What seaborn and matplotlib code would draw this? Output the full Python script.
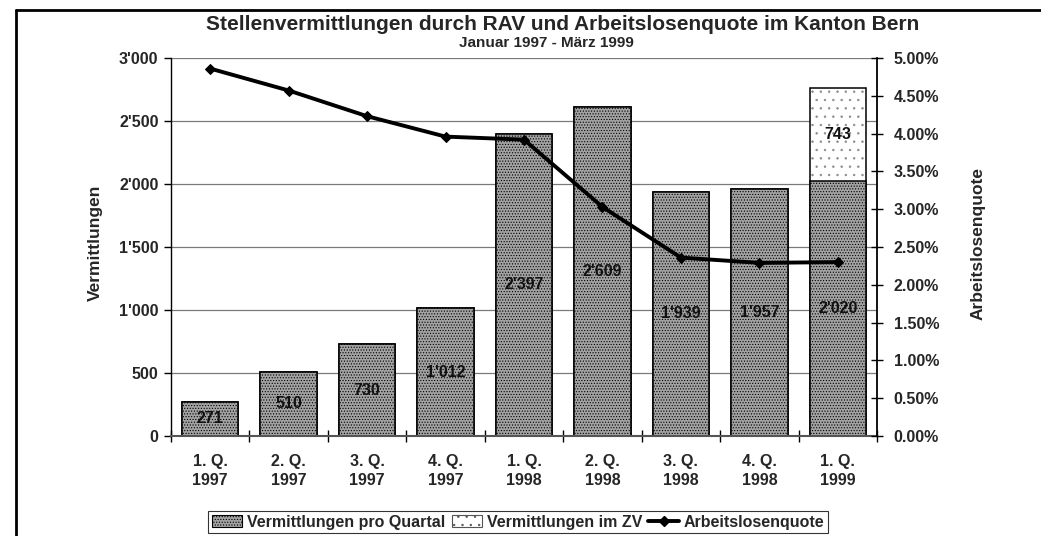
import matplotlib
matplotlib.use("Agg")
import matplotlib.pyplot as plt
import seaborn as sns
import pandas as pd
import numpy as np
from matplotlib.lines import Line2D
from matplotlib.patches import Patch
from matplotlib.ticker import FuncFormatter, FixedLocator

# ---- data ----
quarters = ["1. Q.\n1997", "2. Q.\n1997", "3. Q.\n1997", "4. Q.\n1997",
            "1. Q.\n1998", "2. Q.\n1998", "3. Q.\n1998", "4. Q.\n1998", "1. Q.\n1999"]
vermittlungen = [271, 510, 730, 1012, 2397, 2609, 1939, 1957, 2020]
vermittlungen_zv = [0, 0, 0, 0, 0, 0, 0, 0, 743]
arbeitslosenquote = [4.86, 4.57, 4.23, 3.96, 3.92, 3.03, 2.36, 2.29, 2.30]

title = "Stellenvermittlungen durch RAV und Arbeitslosenquote im Kanton Bern"
subtitle = "Januar 1997 - März 1999"
legend_labels = ["Vermittlungen pro Quartal", "Vermittlungen im ZV", "Arbeitslosenquote"]

def apos(v):
    return f"{int(round(v)):,}".replace(",", "'")

# ---- style ----
sns.set_theme(style="white")
plt.rcParams["font.family"] = ["Liberation Sans", "DejaVu Sans"]
plt.rcParams["font.weight"] = "bold"
plt.rcParams["axes.labelweight"] = "bold"
plt.rcParams["hatch.linewidth"] = 0.5

FS = 11.5
BAR_GRAY = "#a2a2a2"

W, H = 1041, 536
fig = plt.figure(figsize=(W / 100, H / 100), dpi=100)
fig.patch.set_facecolor("white")
ax = fig.add_axes([171 / W, 1 - 436 / H, 706 / W, 378 / H])

df = pd.DataFrame({
    "quartal": quarters,
    "vermittlungen": vermittlungen,
    "zv": vermittlungen_zv,
})
df["total"] = df["vermittlungen"] + df["zv"]

# stacked: total (ZV part, sparse light dots) first, then its outline, then base bars
sns.barplot(data=df, x="quartal", y="total", color="white", saturation=1,
            edgecolor="#8a8a8a", linewidth=0, hatch="..", width=0.72, ax=ax)
sns.barplot(data=df, x="quartal", y="total", color="black", fill=False,
            linewidth=1.1, width=0.72, ax=ax)
sns.barplot(data=df, x="quartal", y="vermittlungen", color=BAR_GRAY, saturation=1,
            edgecolor="black", linewidth=1.1, hatch="......", width=0.72, ax=ax)

ax.set_xlim(-0.5, len(quarters) - 0.5)
ax.set_ylim(0, 3000)
ax.set_yticks(range(0, 3001, 500))
ax.yaxis.set_major_formatter(FuncFormatter(lambda v, p: apos(v)))
ax.yaxis.grid(True, color="#7a7a7a", linewidth=0.9)
ax.xaxis.grid(False)
ax.set_axisbelow(True)

ax.set_xlabel("")
ax.set_ylabel("Vermittlungen", fontsize=12.5, fontweight="bold")
ax.yaxis.set_label_coords(-0.096, 0.51)

ax.tick_params(axis="y", which="major", direction="out", length=5, width=1,
               labelsize=FS, pad=4, left=True, color="black")
ax.tick_params(axis="x", which="major", length=0, labelsize=FS, pad=13)
ax.xaxis.set_minor_locator(FixedLocator(np.arange(-0.5, len(quarters), 1.0)))
ax.tick_params(axis="x", which="minor", direction="inout", length=8, width=1,
               bottom=True, color="black")
for lab in ax.get_xticklabels():
    lab.set_linespacing(1.35)
    lab.set_fontweight("bold")
for lab in ax.get_yticklabels():
    lab.set_fontweight("bold")

for s in ["top", "right"]:
    ax.spines[s].set_visible(False)
ax.spines["left"].set_color("black")
ax.spines["left"].set_linewidth(1.0)
ax.spines["bottom"].set_color("#555555")
ax.spines["bottom"].set_linewidth(1.5)

# data labels
for i, (v, z) in enumerate(zip(vermittlungen, vermittlungen_zv)):
    ax.text(i, v / 2, apos(v), ha="center", va="center", fontsize=FS,
            fontweight="bold", color="#111111")
    if z > 0:
        ax.text(i, v + z / 2, apos(z), ha="center", va="center", fontsize=FS,
                fontweight="bold", color="#111111")

# line on secondary axis
ax2 = ax.twinx()
line_df = pd.DataFrame({"pos": np.arange(len(quarters)), "quote": arbeitslosenquote})
sns.lineplot(data=line_df, x="pos", y="quote", color="black", linewidth=2.8,
             marker="D", markersize=5, markeredgecolor="black", ax=ax2)
ax2.set_xlim(-0.5, len(quarters) - 0.5)
ax2.set_ylim(0, 5)
ax2.set_yticks(np.arange(0, 5.01, 0.5))
ax2.yaxis.set_major_formatter(FuncFormatter(lambda v, p: f"{v:.2f}%"))
ax2.grid(False)
ax2.set_xlabel("")
ax2.set_ylabel("Arbeitslosenquote", fontsize=12.5, fontweight="bold")
ax2.yaxis.set_label_coords(1.132, 0.51)
ax2.tick_params(axis="y", direction="inout", length=8, width=1, labelsize=FS,
                pad=8, right=True, color="black")
for lab in ax2.get_yticklabels():
    lab.set_fontweight("bold")
for s in ["top", "left", "bottom"]:
    ax2.spines[s].set_visible(False)
ax2.spines["right"].set_color("black")
ax2.spines["right"].set_linewidth(1.3)

# titles
fig.text(563 / W, 1 - 24 / H, title, ha="center", va="center", fontsize=15, fontweight="bold")
fig.text(546 / W, 1 - 43 / H, subtitle, ha="center", va="center", fontsize=11, fontweight="bold")

# legend
handles = [
    Patch(facecolor=BAR_GRAY, edgecolor="black", hatch="......", linewidth=0.8),
    Patch(facecolor="white", edgecolor="#555555", hatch="..", linewidth=0.8),
    Line2D([0], [0], color="black", linewidth=2.8, marker="D", markersize=5),
]
leg = fig.legend(handles, legend_labels, loc="center", bbox_to_anchor=(518 / W, 1 - 522 / H),
                 ncol=3, frameon=True, fancybox=False, edgecolor="black",
                 prop={"weight": "bold", "size": FS}, handlelength=1.9,
                 handletextpad=0.3, columnspacing=0.4, borderpad=0.25,
                 borderaxespad=0)
leg.get_frame().set_linewidth(0.8)

# outer frame (partial, as in the scan)
fig.add_artist(Line2D([16 / W, 16 / W], [0, 1 - 10 / H], transform=fig.transFigure,
                      color="black", linewidth=2))
fig.add_artist(Line2D([16 / W, 1], [1 - 10 / H, 1 - 10 / H], transform=fig.transFigure,
                      color="black", linewidth=2))

fig.savefig("out.png", dpi=100, facecolor="white")
